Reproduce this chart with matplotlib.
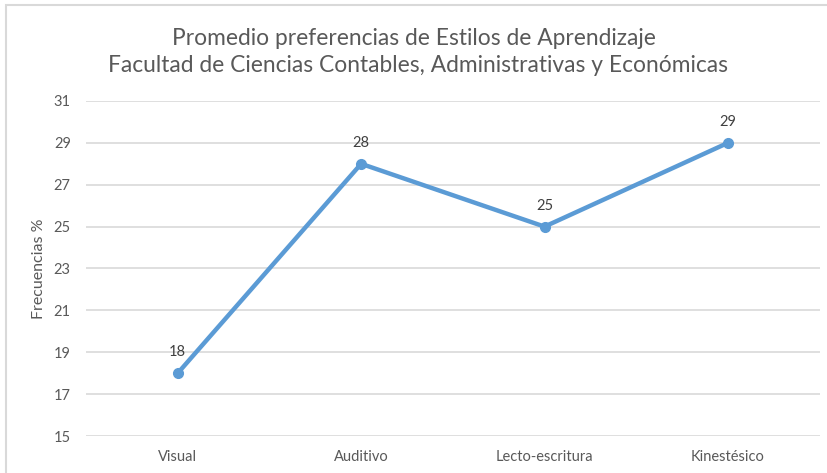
import matplotlib.pyplot as plt
from matplotlib.patches import Rectangle

categorias = ["Visual", "Auditivo", "Lecto-escritura", "Kinestésico"]
valores = [18, 28, 25, 29]
yticks = [15, 17, 19, 21, 23, 25, 27, 29, 31]

plt.rcParams['font.family'] = ['Lato', 'DejaVu Sans']

fig = plt.figure(figsize=(8.28, 4.73), dpi=100)
ax = fig.add_axes([0.1039, 0.0782, 0.886, 0.7083])

x = list(range(len(categorias)))
ax.plot(x, valores, color="#5B9BD5", linewidth=3.2, marker="o", markersize=7,
        solid_capstyle="round", zorder=3)
for xi, v in zip(x, valores):
    ax.annotate(str(v), (xi, v), xytext=(0, 10), textcoords="offset points",
                ha="center", va="bottom", fontsize=10.5, color="#404040")

ax.set_xlim(-0.5, 3.5)
ax.set_ylim(15, 31)
ax.set_yticks(yticks)
ax.set_xticks(x)
ax.set_xticklabels(categorias)
ax.tick_params(axis="both", length=0, labelsize=10.5, labelcolor="#595959")
ax.tick_params(axis="y", pad=11)
ax.tick_params(axis="x", pad=10)
ax.grid(axis="y", color="#D9D9D9", linewidth=1.2)
ax.set_axisbelow(True)
for s in ax.spines.values():
    s.set_visible(False)

ax.set_ylabel("Frecuencias %", fontsize=11.5, color="#595959")
ax.yaxis.set_label_coords(-0.054, 0.5)

fig.text(0.5, 0.918, "Promedio preferencias de Estilos de Aprendizaje",
         ha="center", va="center", fontsize=16.4, color="#595959")
fig.text(0.505, 0.861, "Facultad de Ciencias Contables, Administrativas y Económicas",
         ha="center", va="center", fontsize=16.4, color="#595959")

fig.patches.append(Rectangle((6 / 828, -0.05), 2, 1.04, transform=fig.transFigure,
                             fill=False, edgecolor="#D9D9D9", linewidth=1.5))

plt.savefig("out.png", dpi=100)
